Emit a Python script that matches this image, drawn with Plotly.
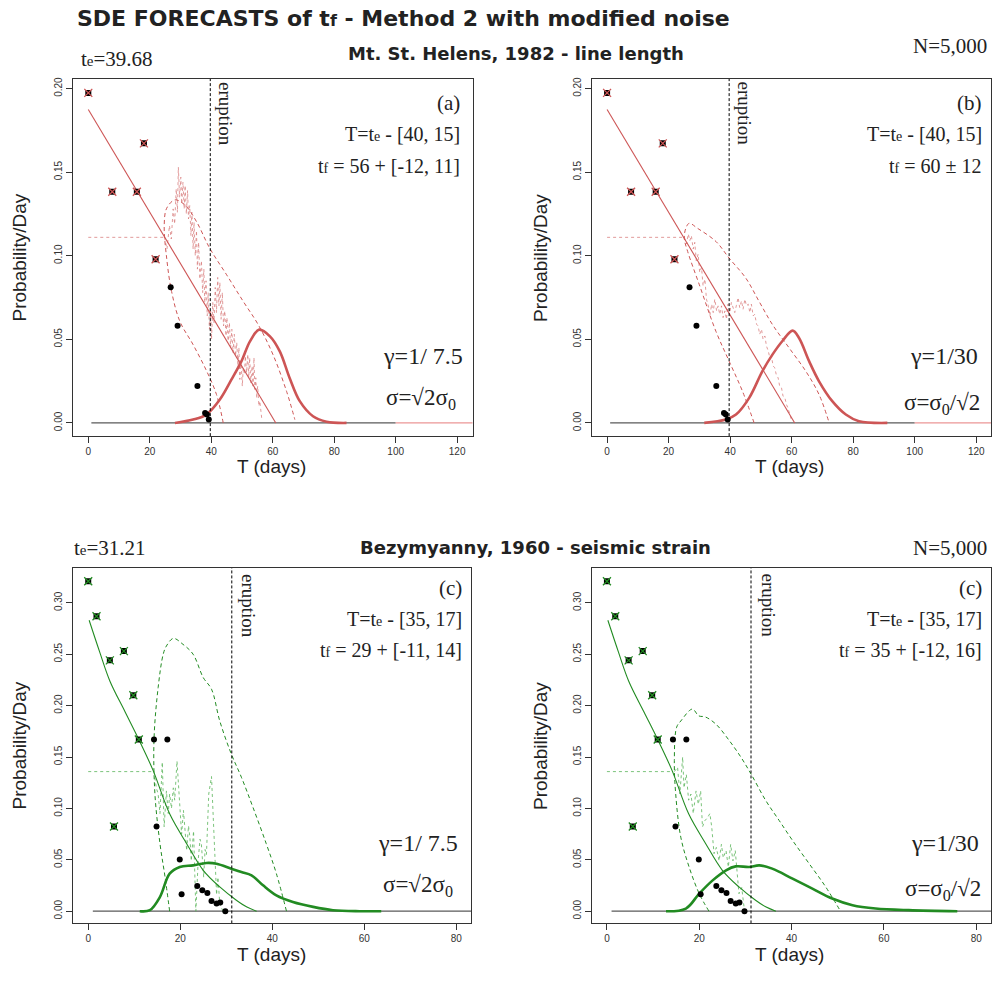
import plotly.graph_objects as go

# ---------------- DATA ----------------
# Mt. St. Helens (top row)
MSH_fit_T = [0, 7.8, 15.8, 18.1, 21.9]
MSH_fit_Y = [0.1974, 0.1383, 0.1383, 0.1672, 0.0979]
MSH_late_T = [26.8, 29.05, 35.5, 38.0, 38.6, 39.2]
MSH_late_Y = [0.0812, 0.0581, 0.0221, 0.0060, 0.0050, 0.0020]
MSH_line_T = [0, 61.0]
MSH_line_Y = [0.1875, 0.0]
MSH_level_T = [0, 24.8]
MSH_level_Y = [0.111, 0.111]
MSH_te = 39.68

A_dens_T = [28.2, 34.1, 38.4, 42.8, 46.6, 49.8, 52.6, 55.6, 59.1, 62.3, 65.5, 68.8, 73.1, 77.5, 84.0]
A_dens_Y = [0.0, 0.002, 0.005, 0.014, 0.026, 0.0368, 0.0488, 0.0558, 0.0518, 0.0428, 0.0269, 0.013, 0.004, 0.0007, 0.0]
A_env_T = [43.9, 41.7, 38.5, 34.1, 29.8, 27.1, 25.5, 24.7, 25.5, 28.2, 31.4, 35.2, 39.5, 45.0, 50.4, 55.3, 60.1, 64.5, 67.2]
A_env_Y = [0.0, 0.017, 0.031, 0.0468, 0.0607, 0.0786, 0.0985, 0.1184, 0.1284, 0.1334, 0.1304, 0.1204, 0.1045, 0.0886, 0.0727, 0.0587, 0.0408, 0.0189, 0.002]
A_noise_T = [24.8, 25.6, 26.4, 27.0, 27.6, 28.1, 28.6, 29.0, 29.3, 29.7, 30.1, 30.4, 30.8, 31.2, 31.5, 31.9, 32.3, 32.6, 33.0, 33.4, 33.7, 34.1, 34.4, 34.8, 35.2, 35.5, 35.9, 36.3, 36.8, 37.2, 37.6, 37.9, 38.3, 38.7, 39.0, 39.4, 39.8, 40.1, 40.5, 40.9, 41.3, 41.7, 42.1, 42.5, 42.8, 43.2, 43.6, 44.0, 44.4, 44.8, 45.1, 45.5, 45.9, 46.3, 46.7, 47.1, 47.5, 47.9, 48.3, 48.7, 49.0, 49.3, 49.7, 50.1, 50.4, 50.8, 51.1, 51.5, 51.9, 52.2, 52.5, 52.9, 53.3, 53.6, 53.9, 54.2, 54.5, 54.8, 55.1, 55.5, 55.8, 56.1, 56.4]
A_noise_Y = [0.111, 0.104, 0.118, 0.110, 0.128, 0.119, 0.140, 0.126, 0.153, 0.135, 0.147, 0.131, 0.144, 0.128, 0.142, 0.125, 0.139, 0.122, 0.130, 0.112, 0.126, 0.104, 0.120, 0.100, 0.115, 0.092, 0.108, 0.086, 0.097, 0.078, 0.092, 0.072, 0.085, 0.064, 0.078, 0.056, 0.067, 0.050, 0.072, 0.060, 0.081, 0.066, 0.087, 0.070, 0.084, 0.062, 0.078, 0.058, 0.067, 0.052, 0.063, 0.049, 0.060, 0.045, 0.056, 0.042, 0.053, 0.040, 0.048, 0.034, 0.045, 0.026, 0.037, 0.022, 0.033, 0.029, 0.040, 0.030, 0.041, 0.027, 0.039, 0.024, 0.034, 0.022, 0.039, 0.020, 0.027, 0.015, 0.022, 0.010, 0.013, 0.006, 0.003]

B_dens_T = [31.6, 38.6, 41.9, 46.2, 50.5, 53.8, 57.0, 60.3, 62.4, 65.7, 68.9, 73.2, 77.6, 81.9, 91.1]
B_dens_Y = [0.0, 0.002, 0.005, 0.015, 0.031, 0.041, 0.049, 0.0552, 0.0508, 0.0368, 0.0249, 0.013, 0.005, 0.001, 0.0]
B_env_T = [47.8, 44.0, 39.7, 35.4, 30.0, 26.2, 25.1, 25.6, 26.7, 29.4, 35.4, 39.7, 45.1, 49.4, 53.8, 59.2, 64.6, 68.9, 72.2]
B_env_Y = [0.0, 0.019, 0.0368, 0.0547, 0.0826, 0.1025, 0.1104, 0.1164, 0.1194, 0.1164, 0.1085, 0.0985, 0.0866, 0.0727, 0.0587, 0.0448, 0.0309, 0.017, 0.0]
B_noise_T = [25.1, 25.8, 26.4, 26.9, 27.4, 28.0, 28.5, 29.0, 29.6, 30.1, 30.7, 31.2, 31.8, 32.3, 32.9, 33.4, 34.0, 34.5, 35.0, 35.6, 36.1, 36.6, 37.2, 37.7, 38.3, 38.8, 39.3, 39.9, 40.4, 41.0, 41.5, 42.0, 42.6, 43.1, 43.7, 44.2, 44.8, 45.3, 45.9, 46.4, 46.9, 47.5, 48.0, 48.6, 49.1, 49.6, 50.2, 50.7, 51.3, 51.8, 52.4, 52.9, 53.4, 54.0, 54.5, 55.1, 55.6, 56.1, 56.7, 57.2, 57.8, 58.3, 58.8, 59.4, 59.9]
B_noise_Y = [0.111, 0.107, 0.113, 0.109, 0.112, 0.104, 0.108, 0.097, 0.101, 0.090, 0.093, 0.082, 0.086, 0.074, 0.070, 0.064, 0.071, 0.066, 0.074, 0.067, 0.070, 0.065, 0.070, 0.063, 0.067, 0.062, 0.071, 0.066, 0.072, 0.068, 0.066, 0.070, 0.075, 0.069, 0.073, 0.068, 0.074, 0.070, 0.071, 0.066, 0.071, 0.064, 0.065, 0.059, 0.058, 0.053, 0.056, 0.050, 0.052, 0.046, 0.043, 0.039, 0.040, 0.034, 0.033, 0.028, 0.027, 0.022, 0.021, 0.016, 0.015, 0.011, 0.009, 0.005, 0.002]

# Bezymyanny (bottom row)
BEZ_fit_T = [0, 1.8, 4.7, 7.75, 9.8, 11.0, 5.6]
BEZ_fit_Y = [0.321, 0.287, 0.244, 0.253, 0.210, 0.167, 0.0824]
BEZ_late_T = [14.3, 17.2, 14.85, 19.9, 20.3, 23.7, 24.8, 25.9, 26.8, 27.9, 28.7, 29.8]
BEZ_late_Y = [0.167, 0.167, 0.0824, 0.0504, 0.0165, 0.0246, 0.0204, 0.0178, 0.0100, 0.0075, 0.0084, 0.0]
BEZ_curve_T = [0.2, 2.5, 4.7, 8.0, 11.0, 14.1, 17.7, 21.4, 25.0, 28.6, 32.2, 34.5, 36.6]
BEZ_curve_Y = [0.283, 0.252, 0.224, 0.194, 0.167, 0.137, 0.0947, 0.0657, 0.0398, 0.0236, 0.0107, 0.004, 0.0]
BEZ_level_T = [0, 14.3]
BEZ_level_Y = [0.1358, 0.1358]
BEZ_te = 31.21

C_dens_T = [11.2, 13.4, 15.6, 17.7, 19.9, 22.8, 25.7, 27.9, 31.1, 33.3, 35.5, 38.0, 40.9, 44.5, 48.9, 53.2, 59.0, 63.7]
C_dens_Y = [0.0, 0.001, 0.0139, 0.0365, 0.043, 0.0446, 0.0469, 0.0462, 0.0414, 0.0381, 0.0349, 0.0252, 0.0155, 0.009, 0.0042, 0.001, 0.0, 0.0]
C_env_T = [17.7, 16.7, 15.6, 14.5, 14.3, 15.2, 16.3, 17.0, 18.5, 20.6, 22.8, 25.0, 26.8, 28.6, 31.1, 33.3, 35.8, 38.7, 40.9, 43.1]
C_env_Y = [0.0, 0.0333, 0.0657, 0.114, 0.167, 0.2176, 0.25, 0.258, 0.2654, 0.2596, 0.25, 0.2273, 0.216, 0.185, 0.153, 0.1303, 0.1012, 0.0657, 0.0366, 0.0]
C_noise_T = [14.3, 14.8, 15.2, 15.6, 16.1, 16.5, 17.0, 17.4, 17.7, 18.1, 18.5, 18.8, 19.3, 19.8, 20.3, 20.7, 21.0, 21.4, 21.8, 22.1, 22.4, 22.9, 23.4, 23.9, 24.3, 24.6, 25.1, 25.4, 25.7, 26.2, 26.8, 27.1, 27.5, 27.9, 28.2, 28.6, 29.3]
C_noise_Y = [0.1358, 0.120, 0.114, 0.095, 0.145, 0.082, 0.117, 0.095, 0.114, 0.100, 0.120, 0.108, 0.146, 0.114, 0.075, 0.098, 0.078, 0.059, 0.083, 0.072, 0.049, 0.078, 0.0, 0.049, 0.070, 0.065, 0.033, 0.060, 0.055, 0.114, 0.131, 0.098, 0.049, 0.016, 0.033, 0.007, 0.0]

D_dens_T = [12.8, 17.1, 20.0, 22.9, 25.8, 27.9, 30.8, 33.0, 35.8, 40.2, 44.5, 48.8, 53.2, 58.2, 65.4, 75.9]
D_dens_Y = [0.0, 0.0026, 0.0172, 0.030, 0.0398, 0.0436, 0.043, 0.0446, 0.0414, 0.0317, 0.022, 0.0123, 0.0058, 0.0026, 0.001, 0.0]
D_env_T = [22.1, 20.0, 17.8, 16.0, 14.9, 14.6, 15.1, 16.0, 18.5, 19.9, 21.3, 23.6, 26.5, 29.0, 31.2, 34.4, 37.3, 40.2, 43.8, 47.4, 50.6]
D_env_Y = [0.0, 0.017, 0.043, 0.072, 0.114, 0.1465, 0.179, 0.185, 0.1966, 0.19, 0.189, 0.182, 0.166, 0.15, 0.1336, 0.1077, 0.0883, 0.0689, 0.0463, 0.0236, 0.0]
D_noise_T = [14.6, 15.3, 15.8, 16.4, 16.7, 17.2, 17.7, 18.2, 18.7, 19.3, 19.8, 20.3, 20.7, 21.2, 21.8, 22.3, 22.7, 23.2, 23.7, 24.3, 24.8, 25.2, 25.8, 26.3, 26.8, 27.3, 27.8, 28.3, 28.6, 29.2, 29.7]
D_noise_Y = [0.1358, 0.140, 0.114, 0.150, 0.120, 0.133, 0.108, 0.114, 0.095, 0.117, 0.104, 0.117, 0.082, 0.088, 0.091, 0.095, 0.082, 0.056, 0.062, 0.049, 0.065, 0.052, 0.059, 0.043, 0.065, 0.049, 0.059, 0.033, 0.017, 0.023, 0.004]

X_TICKS_TOP = [0, 20, 40, 60, 80, 100, 120]
X_TICKS_BOT = [0, 20, 40, 60, 80]
Y_TICKS_TOP = [0.0, 0.05, 0.10, 0.15, 0.20]
Y_TICKS_BOT = [0.0, 0.05, 0.10, 0.15, 0.20, 0.25, 0.30]

# ---------------- STYLE ----------------
W, H = 992, 989
RED = "rgb(205,85,85)"
RED_LIGHT = "rgba(215,120,120,0.75)"
GREEN = "rgb(34,139,34)"
GREEN_LIGHT = "rgba(90,180,90,0.8)"
GREY = "rgb(90,90,90)"
SERIF = "Liberation Serif"
SANS = "Liberation Sans"
WIDE_SANS = "DejaVu Sans"


def px(x):
    return x / W


def py(y):
    return 1 - y / H


fig = go.Figure()

panels = [
    dict(name="a", xa="x", ya="y", dom_x=[px(73), px(473)], dom_y=[py(435), py(77)],
         xr=[-5, 125], yr=[-0.0079, 0.2058], xt=X_TICKS_TOP, yt=Y_TICKS_TOP,
         col=RED, lcol=RED_LIGHT,
         fitT=MSH_fit_T, fitY=MSH_fit_Y, lateT=MSH_late_T, lateY=MSH_late_Y,
         lineT=MSH_line_T, lineY=MSH_line_Y, levT=MSH_level_T, levY=MSH_level_Y,
         dT=A_dens_T, dY=A_dens_Y, eT=A_env_T, eY=A_env_Y, nT=A_noise_T, nY=A_noise_Y,
         te=MSH_te, base=[1, 100], tail=True),
    dict(name="b", xa="x2", ya="y2", dom_x=[px(592.3), 1.0], dom_y=[py(435), py(77)],
         xr=[-5, 124.8], yr=[-0.0079, 0.2058], xt=X_TICKS_TOP, yt=Y_TICKS_TOP,
         col=RED, lcol=RED_LIGHT,
         fitT=MSH_fit_T, fitY=MSH_fit_Y, lateT=MSH_late_T, lateY=MSH_late_Y,
         lineT=MSH_line_T, lineY=MSH_line_Y, levT=MSH_level_T, levY=MSH_level_Y,
         dT=B_dens_T, dY=B_dens_Y, eT=B_env_T, eY=B_env_Y, nT=B_noise_T, nY=B_noise_Y,
         te=MSH_te, base=[1, 100], tail=True),
    dict(name="c", xa="x3", ya="y3", dom_x=[px(73.3), px(471.7)], dom_y=[py(923.3), py(566.7)],
         xr=[-3.26, 83.26], yr=[-0.0119, 0.3343], xt=X_TICKS_BOT, yt=Y_TICKS_BOT,
         col=GREEN, lcol=GREEN_LIGHT,
         fitT=BEZ_fit_T, fitY=BEZ_fit_Y, lateT=BEZ_late_T, lateY=BEZ_late_Y,
         lineT=BEZ_curve_T, lineY=BEZ_curve_Y, levT=BEZ_level_T, levY=BEZ_level_Y,
         dT=C_dens_T, dY=C_dens_Y, eT=C_env_T, eY=C_env_Y, nT=C_noise_T, nY=C_noise_Y,
         te=BEZ_te, base=[1, 90], tail=False),
    dict(name="d", xa="x4", ya="y4", dom_x=[px(592.3), 1.0], dom_y=[py(923.3), py(566.7)],
         xr=[-3.3, 83.2], yr=[-0.0119, 0.3343], xt=X_TICKS_BOT, yt=Y_TICKS_BOT,
         col=GREEN, lcol=GREEN_LIGHT,
         fitT=BEZ_fit_T, fitY=BEZ_fit_Y, lateT=BEZ_late_T, lateY=BEZ_late_Y,
         lineT=BEZ_curve_T, lineY=BEZ_curve_Y, levT=BEZ_level_T, levY=BEZ_level_Y,
         dT=D_dens_T, dY=D_dens_Y, eT=D_env_T, eY=D_env_Y, nT=D_noise_T, nY=D_noise_Y,
         te=BEZ_te, base=[1, 90], tail=False),
]

for i, p in enumerate(panels):
    xa, ya = p["xa"], p["ya"]
    common = dict(xaxis=xa, yaxis=ya, showlegend=False, hoverinfo="skip")
    fig.add_trace(go.Scatter(x=p["base"], y=[0, 0], mode="lines",
                             line=dict(color=GREY, width=1.3), **common))
    if p["tail"]:
        fig.add_trace(go.Scatter(x=[100, 130], y=[0, 0], mode="lines",
                                 line=dict(color="rgb(235,150,150)", width=1.3), **common))
    fig.add_trace(go.Scatter(x=p["levT"], y=p["levY"], mode="lines",
                             line=dict(color=p["lcol"], width=1, dash="dot"), **common))
    fig.add_trace(go.Scatter(x=p["nT"], y=p["nY"], mode="lines",
                             line=dict(color=p["lcol"], width=1, dash="dot"), **common))
    fig.add_trace(go.Scatter(x=p["eT"], y=p["eY"], mode="lines", line_shape="spline",
                             line=dict(color=p["col"], width=1, dash="4px,3px"), **common))
    fig.add_trace(go.Scatter(x=p["lineT"], y=p["lineY"], mode="lines", line_shape="spline",
                             line=dict(color=p["col"], width=1.1), **common))
    fig.add_trace(go.Scatter(x=p["dT"], y=p["dY"], mode="lines", line_shape="spline",
                             line=dict(color=p["col"], width=2.6), **common))
    fig.add_trace(go.Scatter(x=[p["te"], p["te"]], y=[p["yr"][0], p["yr"][1]], mode="lines",
                             line=dict(color="black", width=1, dash="3px,2px"), **common))
    fig.add_trace(go.Scatter(x=p["fitT"], y=p["fitY"], mode="markers",
                             marker=dict(symbol="square", size=6, color="black"), **common))
    fig.add_trace(go.Scatter(x=p["fitT"], y=p["fitY"], mode="markers",
                             marker=dict(symbol="x-thin", size=8,
                                         line=dict(color=p["col"], width=1.3)), **common))
    fig.add_trace(go.Scatter(x=p["lateT"], y=p["lateY"], mode="markers",
                             marker=dict(symbol="circle", size=6, color="black"), **common))

    sfx = "" if i == 0 else str(i + 1)
    fig.layout["xaxis" + sfx] = dict(
        domain=p["dom_x"], range=p["xr"], anchor=ya, tickvals=p["xt"],
        ticktext=[str(v) for v in p["xt"]], ticks="outside", ticklen=6, tickcolor="#333",
        showline=True, linecolor="#333", linewidth=1, mirror=True, showgrid=False,
        zeroline=False, tickfont=dict(family=SANS, size=10, color="#333"))
    fig.layout["yaxis" + sfx] = dict(
        domain=p["dom_y"], range=p["yr"], anchor=xa, tickvals=p["yt"],
        ticktext=["%.2f" % v for v in p["yt"]], ticks="outside", ticklen=6, tickcolor="#333",
        showline=True, linecolor="#333", linewidth=1, mirror=True, showgrid=False,
        zeroline=False, tickangle=-90, tickfont=dict(family=SANS, size=10, color="#333"))

annotations = []


def ann(text, x, y, size, family=SERIF, xanchor="center", angle=0, bold=False, color="#222"):
    if bold:
        text = "<b>" + text + "</b>"
    annotations.append(dict(text=text, x=px(x), y=py(y), xref="paper", yref="paper",
                            xanchor=xanchor, yanchor="middle", showarrow=False, textangle=angle,
                            font=dict(family=family, size=size, color=color)))


def small(ch, size):
    return "<span style='font-size:%dpx'>%s</span>" % (size, ch)


ann("SDE FORECASTS of t" + small("f", 16) + " - Method 2 with modified noise",
    75, 17, 22, family=WIDE_SANS, xanchor="left", bold=True)
ann("Mt. St. Helens, 1982 - line length", 517, 52, 18, family=WIDE_SANS, bold=True)
ann("Bezymyanny, 1960 - seismic strain", 536, 547, 18, family=WIDE_SANS, bold=True)
ann("t" + small("e", 15) + "=39.68", 79, 57, 21, xanchor="left")
ann("t" + small("e", 15) + "=31.21", 72, 547, 21, xanchor="left")
ann("N=5,000", 990, 44, 21, xanchor="right")
ann("N=5,000", 990, 547, 21, xanchor="right")

for (x, y) in [(20, 256), (541, 256), (20, 745), (541, 745)]:
    ann("Probability/Day", x, y, 19, family=SANS, angle=-90)
for (x, y) in [(272, 465), (790, 465), (272, 954), (790, 954)]:
    ann("T (days)", x, y, 19, family=SANS)

ann("(a)", 462, 101, 21, xanchor="right")
ann("T=t" + small("e", 14) + " - [40, 15]", 462, 132, 20, xanchor="right")
ann("t" + small("f", 14) + " = 56 + [-12, 11]", 462, 164, 20, xanchor="right")
ann("γ=1/ 7.5", 465, 355, 24, xanchor="right")
ann("σ=√2σ<sub>0</sub>", 458, 398, 23, xanchor="right")

ann("(b)", 985, 101, 21, xanchor="right")
ann("T=t" + small("e", 14) + " - [40, 15]", 985, 132, 20, xanchor="right")
ann("t" + small("f", 14) + " = 60 ± 12", 985, 164, 20, xanchor="right")
ann("γ=1/30", 981, 355, 24, xanchor="right")
ann("σ=σ<sub>0</sub>/√2", 983, 403, 23, xanchor="right")

ann("(c)", 464, 587, 21, xanchor="right")
ann("T=t" + small("e", 14) + " - [35, 17]", 464, 618, 20, xanchor="right")
ann("t" + small("f", 14) + " = 29 + [-11, 14]", 464, 649, 20, xanchor="right")
ann("γ=1/ 7.5", 460, 843, 24, xanchor="right")
ann("σ=√2σ<sub>0</sub>", 455, 886, 23, xanchor="right")

ann("(c)", 985, 587, 21, xanchor="right")
ann("T=t" + small("e", 14) + " - [35, 17]", 985, 618, 20, xanchor="right")
ann("t" + small("f", 14) + " = 35 + [-12, 16]", 985, 649, 20, xanchor="right")
ann("γ=1/30", 982, 843, 24, xanchor="right")
ann("σ=σ<sub>0</sub>/√2", 984, 890, 23, xanchor="right")

for (x, y) in [(225, 112), (745, 112), (248, 605), (769, 605)]:
    ann("eruption", x, y, 19, angle=90)

fig.update_layout(width=W, height=H, margin=dict(l=0, r=0, t=0, b=0),
                  paper_bgcolor="white", plot_bgcolor="white",
                  annotations=annotations)

fig.write_html("out.html", config={"displayModeBar": False},
               post_script="document.body.style.margin='0px';document.body.style.overflow='hidden';")
